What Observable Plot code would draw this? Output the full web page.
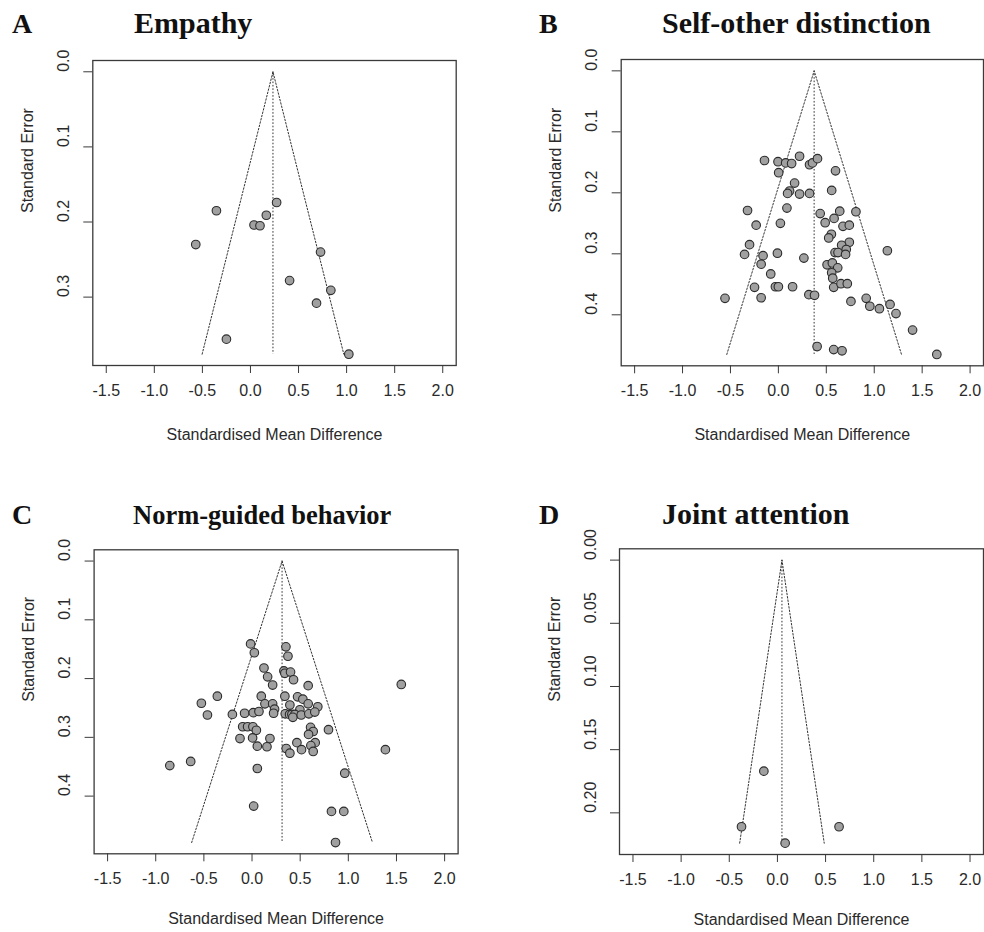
<!DOCTYPE html>
<html>
<head>
<meta charset="utf-8">
<script src="https://cdn.jsdelivr.net/npm/d3@7"></script>
<script src="https://cdn.jsdelivr.net/npm/@observablehq/plot@0.6"></script>
<style>
  html, body { margin: 0; padding: 0; background: #fff; }
  #page { position: relative; width: 984px; height: 932px; overflow: hidden; background: #fff; }
  .letter, .title { position: absolute; font-family: "Liberation Serif", "Times New Roman", serif; font-weight: bold; color: #111; white-space: nowrap; }
  .letter { font-size: 28px; line-height: 28px; }
  .title { font-size: 30px; line-height: 30px; }
  .panel { position: absolute; }
</style>
</head>
<body>
<div id="page"></div>
<script>
// ---------- data ----------
const xTicks = [-1.5, -1.0, -0.5, 0.0, 0.5, 1.0, 1.5, 2.0];

// A: Empathy
const empathySMD = [-0.354, -0.569, 0.272, 0.165, 0.037, 0.099, 0.729, 0.407, 0.836, 0.687, -0.250, 1.023];
const empathySE  = [0.185, 0.230, 0.174, 0.191, 0.204, 0.205, 0.240, 0.278, 0.291, 0.308, 0.356, 0.376];
const empathyTicks = [0.0, 0.1, 0.2, 0.3];

// B: Self-other distinction
const selfOtherSMD = [-0.145, -0.004, 0.076, 0.138, 0.221, 0.325, 0.356, 0.408, 0.003, 0.596,
  0.169, 0.117, 0.096, 0.221, 0.325, 0.556, -0.322, 0.089, 0.436, 0.640,
  -0.232, 0.021, 0.488, 0.581, -0.301, -0.353, -0.160, -0.010, 0.266, -0.180,
  -0.080, -0.249, -0.031, 0.000, 0.148, -0.557, -0.180, 0.318, 0.377, 0.809,
  0.674, 0.740, 0.553, 0.525, 0.740, 0.660, 0.708, 0.591, 0.622, 0.701,
  1.137, 0.508, 0.563, 0.619, 0.556, 0.567, 0.577, 0.653, 0.719, 0.757,
  0.916, 0.954, 1.054, 1.165, 1.227, 1.400, 0.404, 0.577, 0.664, 1.653];
const selfOtherSE = [0.147, 0.149, 0.151, 0.152, 0.140, 0.154, 0.151, 0.144, 0.167, 0.164,
  0.184, 0.197, 0.201, 0.202, 0.201, 0.196, 0.229, 0.225, 0.234, 0.230,
  0.253, 0.250, 0.249, 0.242, 0.285, 0.301, 0.303, 0.299, 0.307, 0.317,
  0.333, 0.355, 0.354, 0.354, 0.354, 0.373, 0.372, 0.367, 0.368, 0.231,
  0.255, 0.253, 0.268, 0.274, 0.281, 0.286, 0.293, 0.298, 0.298, 0.301,
  0.295, 0.318, 0.315, 0.323, 0.331, 0.340, 0.355, 0.349, 0.349, 0.378,
  0.373, 0.386, 0.390, 0.383, 0.398, 0.425, 0.452, 0.457, 0.459, 0.465];
const selfOtherTicks = [0.0, 0.1, 0.2, 0.3, 0.4];

// C: Norm-guided behavior
const normSMD = [-0.015, 0.024, 0.352, 0.373, 0.124, 0.162, 0.214, 0.331, 0.341, 0.400,
  0.431, -0.526, -0.360, -0.463, -0.204, 0.096, 0.134, 0.214, 0.234, 0.224,
  -0.077, 0.013, 0.072, -0.097, -0.046, 0.009, 0.045, -0.125, 0.006, 0.186,
  0.055, 0.155, 0.341, 0.355, 0.393, 0.466, -0.637, -0.854, 0.583, 0.393,
  0.473, 0.528, 0.583, 0.683, 0.497, 0.345, 0.390, 0.414, 0.445, 0.424,
  0.511, 0.590, 0.652, 0.608, 0.635, 0.587, 0.794, 0.656, 0.611, 0.514,
  0.635, 0.055, 0.963, 1.385, 0.017, 0.825, 0.953, 0.867, 1.550];
const normSE = [0.141, 0.156, 0.146, 0.162, 0.182, 0.197, 0.211, 0.187, 0.191, 0.189,
  0.202, 0.242, 0.230, 0.262, 0.261, 0.230, 0.243, 0.243, 0.252, 0.259,
  0.259, 0.258, 0.256, 0.282, 0.282, 0.282, 0.288, 0.302, 0.301, 0.302,
  0.315, 0.316, 0.230, 0.319, 0.327, 0.309, 0.341, 0.348, 0.212, 0.245,
  0.231, 0.235, 0.243, 0.248, 0.253, 0.260, 0.261, 0.261, 0.261, 0.266,
  0.262, 0.260, 0.257, 0.283, 0.290, 0.295, 0.287, 0.309, 0.314, 0.321,
  0.324, 0.353, 0.361, 0.321, 0.417, 0.426, 0.426, 0.479, 0.210];
const normTicks = [0.0, 0.1, 0.2, 0.3, 0.4];

// D: Joint attention
const jointSMD = [-0.141, -0.373, 0.640, 0.080];
const jointSE  = [0.167, 0.211, 0.211, 0.224];
const jointTicks = [0.00, 0.05, 0.10, 0.15, 0.20];

// pooled estimates (funnel centres)
const pooled = [0.234, 0.373, 0.312, 0.047];

const letters = ["A", "B", "C", "D"];
const titles = ["Empathy", "Self-other distinction", "Norm-guided behavior", "Joint attention"];

// ---------- drawing ----------
const page = document.getElementById("page");
const FONT = '"Liberation Sans", Arial, Helvetica, sans-serif';

function funnel(opts) {
  const {smd, se, center, yTicks, dec, width, height, ml, mr, mt, mb, titleDy} = opts;
  const maxSE = d3.max(se);
  const pad = 0.04;
  const xr = xTicks[xTicks.length - 1] - xTicks[0];
  const pts = smd.map((x, i) => ({x, y: se[i]}));
  const tri = [
    {x: center - 1.96 * maxSE, y: maxSE},
    {x: center, y: 0},
    {x: center + 1.96 * maxSE, y: maxSE}
  ];
  return Plot.plot({
    width, height,
    marginLeft: ml, marginRight: mr, marginTop: mt, marginBottom: mb,
    style: {fontFamily: FONT, fontSize: "16px", color: "#2a2a2a", background: "transparent", overflow: "visible"},
    x: {domain: [xTicks[0] - xr * pad, xTicks[xTicks.length - 1] + xr * pad]},
    y: {domain: [-maxSE * pad, maxSE * (1 + pad)], reverse: true},
    marks: [
      Plot.line(tri, {x: "x", y: "y", stroke: "#333", strokeWidth: 1, strokeDasharray: "1.6,1.8"}),
      Plot.ruleX([center], {y1: 0, y2: maxSE, stroke: "#333", strokeWidth: 1, strokeDasharray: "1.6,1.8"}),
      Plot.dot(pts, {x: "x", y: "y", r: 4.3, fill: "#a0a0a0", stroke: "#2b2b2b", strokeWidth: 1.1}),
      Plot.frame({stroke: "#3a3a3a", strokeWidth: 1.3}),
      Plot.axisX({ticks: xTicks, tickSize: 8, tickFormat: () => "", label: null, stroke: "#3a3a3a"}),
      Plot.axisY({ticks: yTicks, tickSize: 9, tickFormat: () => "", label: null, stroke: "#3a3a3a"}),
      Plot.text(xTicks, {x: d => d, text: d => d.toFixed(1), frameAnchor: "bottom", dy: 30, fontSize: 16, fill: "#2a2a2a"}),
      Plot.text(yTicks, {y: d => d, text: d => d.toFixed(dec), frameAnchor: "left", dx: -29, rotate: -90, fontSize: 16, fill: "#2a2a2a"}),
      Plot.text(["Standardised Mean Difference"], {text: d => d, frameAnchor: "bottom", dy: titleDy, fontSize: 16, fill: "#2a2a2a"}),
      Plot.text(["Standard Error"], {text: d => d, frameAnchor: "left", dx: -65, rotate: -90, fontSize: 16, fill: "#2a2a2a"})
    ]
  });
}

const layout = [
  {left: 0,   top: 40,  width: 490, height: 435, ml: 92.3,  mr: 34.3, mt: 20,   mb: 110,  titleDy: 74.5,
   letterX: 12,  titleX: 134, baseline: 33, titleSize: 30},
  {left: 492, top: 40,  width: 492, height: 435, ml: 128.7, mr: 1,    mt: 19,   mb: 109.7, titleDy: 74.5,
   letterX: 539, titleX: 662, baseline: 33, titleSize: 30},
  {left: 0,   top: 535, width: 490, height: 397, ml: 93.6,  mr: 32.4, mt: 14.3, mb: 78.7, titleDy: 70,
   letterX: 12,  titleX: 133, baseline: 524, titleSize: 26.5},
  {left: 492, top: 535, width: 492, height: 397, ml: 127,   mr: 1,    mt: 13.3, mb: 78,   titleDy: 70,
   letterX: 539, titleX: 662, baseline: 524, titleSize: 30}
];

const series = [
  {smd: empathySMD,   se: empathySE,   yTicks: empathyTicks,   dec: 1},
  {smd: selfOtherSMD, se: selfOtherSE, yTicks: selfOtherTicks, dec: 1},
  {smd: normSMD,      se: normSE,      yTicks: normTicks,      dec: 1},
  {smd: jointSMD,     se: jointSE,     yTicks: jointTicks,     dec: 2}
];

series.forEach((s, i) => {
  const L = layout[i];
  const letter = document.createElement("div");
  letter.className = "letter";
  letter.textContent = letters[i];
  letter.style.left = L.letterX + "px";
  letter.style.top = (L.baseline - 23.5) + "px";
  page.appendChild(letter);

  const title = document.createElement("div");
  title.className = "title";
  title.textContent = titles[i];
  title.style.left = L.titleX + "px";
  title.style.fontSize = L.titleSize + "px";
  title.style.lineHeight = L.titleSize + "px";
  title.style.top = (L.baseline - 0.835 * L.titleSize) + "px";
  page.appendChild(title);

  const holder = document.createElement("div");
  holder.className = "panel";
  holder.style.left = L.left + "px";
  holder.style.top = L.top + "px";
  holder.appendChild(funnel({...s, center: pooled[i], ...L}));
  page.appendChild(holder);
});
</script>
</body>
</html>
